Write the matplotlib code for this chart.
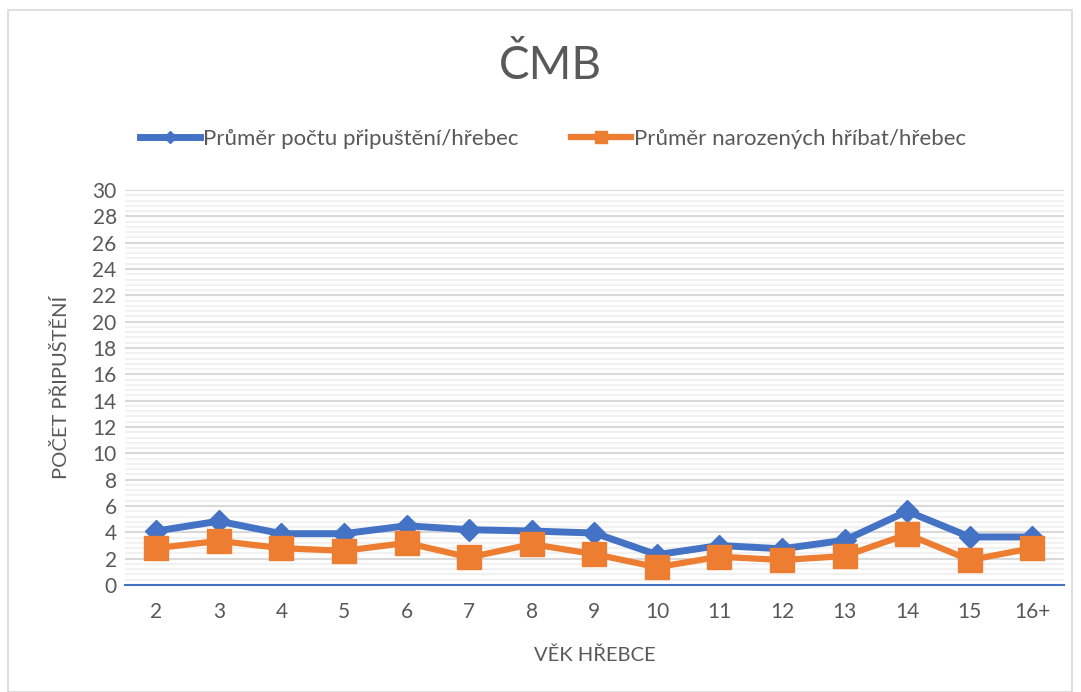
import numpy as np
import matplotlib.pyplot as plt
from matplotlib.ticker import MultipleLocator
from matplotlib.patches import Rectangle

vek = ['2', '3', '4', '5', '6', '7', '8', '9', '10', '11', '12', '13', '14', '15', '16+']
pripusteni = [4.1, 4.85, 3.9, 3.9, 4.5, 4.2, 4.1, 3.95, 2.3, 3.0, 2.75, 3.4, 5.6, 3.65, 3.65]
hribata = [2.8, 3.35, 2.8, 2.6, 3.2, 2.1, 3.1, 2.35, 1.35, 2.15, 1.9, 2.2, 3.85, 1.9, 2.8]

plt.rcParams['font.family'] = ['Lato', 'DejaVu Sans']
sedy = '#595959'

fig = plt.figure(figsize=(10.81, 6.92), dpi=100)
ax = fig.add_axes([0.1156, 0.1546, 0.8684, 0.5708])

# ramecek grafu
fig.patches.append(Rectangle((8 / 1081, 0), 1064 / 1081, 1 - 10 / 692, transform=fig.transFigure,
                             fill=False, edgecolor='#d9d9d9', linewidth=1.2))

x = np.arange(len(vek))
ax.plot(x, pripusteni, color='#4472C4', linewidth=5, marker='D', markersize=11,
        label='Průměr počtu připuštění/hřebec', zorder=3)
ax.plot(x, hribata, color='#ED7D31', linewidth=4.5, marker='s', markersize=17,
        label='Průměr narozených hříbat/hřebec', zorder=4)

ax.set_xlim(-0.5, len(vek) - 0.5)
ax.set_ylim(0, 30)
ax.yaxis.set_major_locator(MultipleLocator(2))
ax.yaxis.set_minor_locator(MultipleLocator(0.4))
ax.set_xticks(x)
ax.set_xticklabels(vek)
ax.grid(True, which='major', axis='y', color='#d9d9d9', linewidth=1.5)
ax.grid(True, which='minor', axis='y', color='#f0f0f0', linewidth=1.3)
ax.set_axisbelow(True)
for s in ['top', 'right', 'left']:
    ax.spines[s].set_visible(False)
ax.spines['bottom'].set_color('#4472C4')
ax.spines['bottom'].set_linewidth(1.5)
ax.tick_params(which='both', length=0, labelsize=15, labelcolor=sedy)
ax.tick_params(axis='x', pad=12)
ax.tick_params(axis='y', pad=6)

ax.set_xlabel('VĚK HŘEBCE', fontsize=14.5, color=sedy, labelpad=18)
ax.set_ylabel('POČET PŘIPUŠTĚNÍ', fontsize=14.5, color=sedy, labelpad=16)

fig.text(0.509, 0.905, 'ČMB', fontsize=33, color=sedy, ha='center', va='center')
ax.legend(loc='center', bbox_to_anchor=(0.456, 1.13), ncol=2, frameon=False,
          fontsize=16, labelcolor=sedy, handlelength=2.7, handletextpad=0.1,
          columnspacing=2.4, markerscale=0.55)

plt.savefig('out.png', dpi=100)
